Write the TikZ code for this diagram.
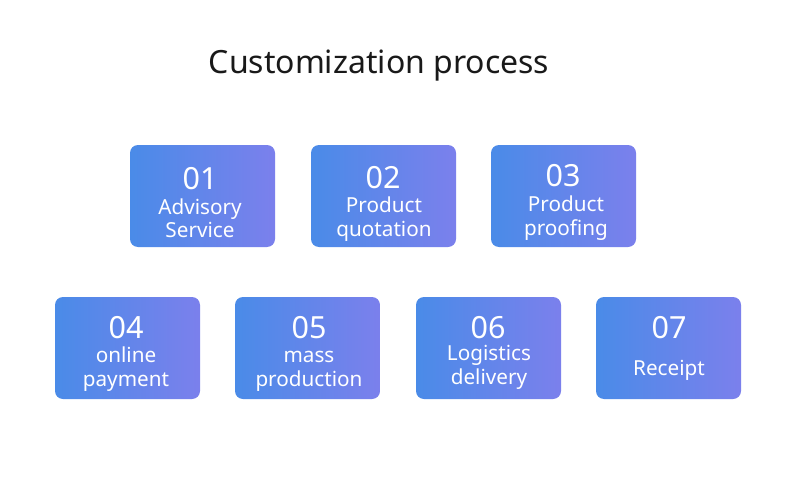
\documentclass[tikz,border=0pt]{standalone}
\usepackage{fontspec}
\setmainfont{Noto Sans}
\begin{document}
\begin{tikzpicture}[x=1pt,y=-1pt,
  card/.style={rounded corners=8pt, left color=cardL, right color=cardR, draw=none},
  num/.style={text=white, font=\fontsize{30.5}{31}\selectfont, inner sep=0pt},
  lbl/.style={text=white, font=\fontsize{20.7}{21}\selectfont, inner sep=0pt, anchor=base},
  ttl/.style={text=black!90, font=\fontsize{32}{34}\selectfont, inner sep=0pt}]
\definecolor{cardL}{HTML}{4A8BE8}
\definecolor{cardR}{HTML}{7B80EC}
\useasboundingbox (0,0) rectangle (790,487);
\fill[white] (0,0) rectangle (790,487);
\node[ttl] (title) at (379,66) {Customization process};
% row 1
\path[card] (130,145) rectangle (275,247);
\node[num] (n1) at (200,179) {01};
\node[lbl] (a1) at (200,214) {Advisory};
\node[lbl] (b1) at (200,237) {Service};
\path[card] (311,145) rectangle (456,247);
\node[num] (n2) at (383,178) {02};
\node[lbl] (a2) at (384,212) {Product};
\node[lbl] (b2) at (384,236) {quotation};
\path[card] (491,145) rectangle (636,247);
\node[num] (n3) at (563,176) {03};
\node[lbl] (a3) at (566,211) {Product};
\node[lbl] (b3) at (566,235) {proofing};
% row 2
\path[card] (55,297) rectangle (200,399);
\node[num] (n4) at (126,328) {04};
\node[lbl] (a4) at (126,362) {online};
\node[lbl] (b4) at (126,386) {payment};
\path[card] (235,297) rectangle (380,399);
\node[num] (n5) at (309,328) {05};
\node[lbl] (a5) at (309,362) {mass};
\node[lbl] (b5) at (309,386) {production};
\path[card] (416,297) rectangle (561,399);
\node[num] (n6) at (488,328) {06};
\node[lbl] (a6) at (489,360) {Logistics};
\node[lbl] (b6) at (489,384) {delivery};
\path[card] (596,297) rectangle (741,399);
\node[num] (n7) at (669,328) {07};
\node[lbl] (a7) at (669,375) {Receipt};
\end{tikzpicture}
\end{document}
